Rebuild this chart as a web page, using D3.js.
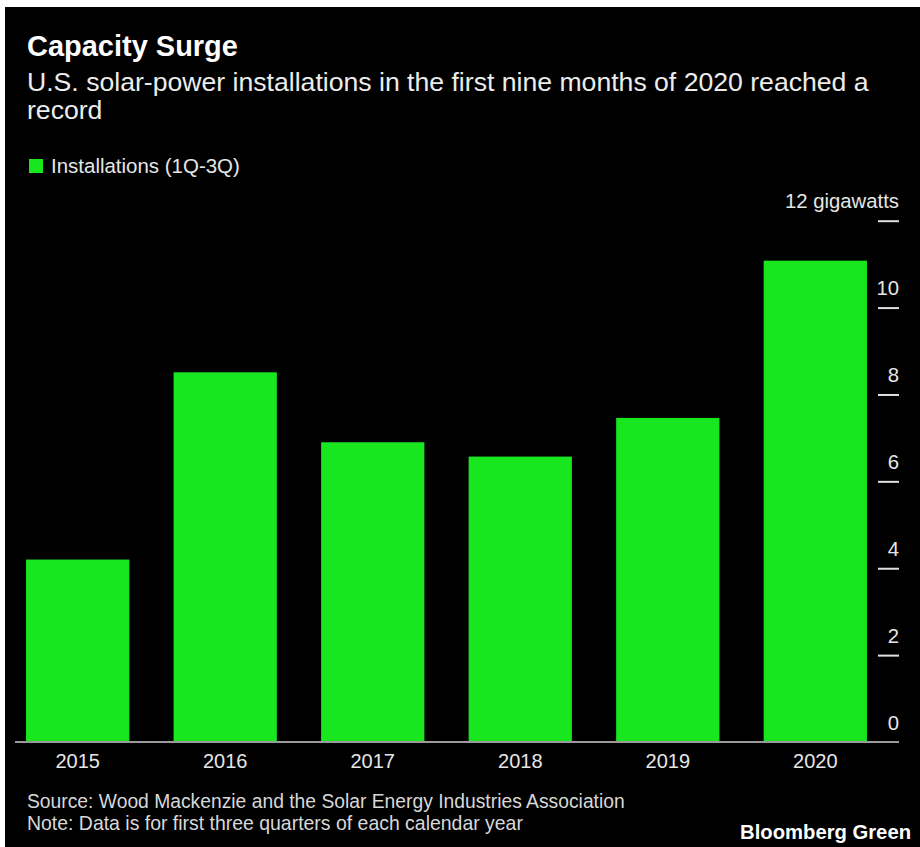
<!DOCTYPE html>
<html>
<head>
<meta charset="utf-8">
<script src="https://cdn.jsdelivr.net/npm/d3@7"></script>
<style>
  html, body { margin: 0; padding: 0; background: #ffffff; }
  svg { display: block; }
  text { font-family: "Liberation Sans", Arial, Helvetica, sans-serif; }
</style>
</head>
<body>
<script>
// ---- data ----
const categories = ["2015", "2016", "2017", "2018", "2019", "2020"];
const installations = [4.2, 8.51, 6.9, 6.57, 7.46, 11.08];
const yTicks = [0, 2, 4, 6, 8, 10, 12];
const yUnit = "gigawatts";
const seriesName = "Installations (1Q-3Q)";
const title = "Capacity Surge";
const subtitleLines = ["U.S. solar-power installations in the first nine months of 2020 reached a", "record"];
const footLines = ["Source: Wood Mackenzie and the Solar Energy Industries Association", "Note: Data is for first three quarters of each calendar year"];
const brand = "Bloomberg Green";

const W = 920, H = 847;
const GREEN = "#18e61f";

const svg = d3.select("body").append("svg").attr("width", W).attr("height", H);
svg.append("rect").attr("x", 5).attr("y", 7).attr("width", W - 5).attr("height", H - 7).attr("fill", "#000");

function fit(sel, target) {
  const fs = +sel.attr("font-size");
  const w = sel.node().getComputedTextLength();
  const nfs = fs * target / w;
  sel.attr("font-size", nfs);
  return nfs;
}

// Title & subtitle
const t = svg.append("text").attr("x", 27).attr("y", 56).attr("font-size", 26)
  .attr("font-weight", "bold").attr("fill", "#fff").text(title);
fit(t, 211);
let subSize = 22;
subtitleLines.forEach((s, i) => {
  const st = svg.append("text").attr("x", 27).attr("y", 91 + i * 28).attr("font-size", subSize)
    .attr("fill", "#ececec").text(s);
  if (i === 0) subSize = fit(st, 842);
});

// Legend
svg.append("rect").attr("x", 29).attr("y", 159).attr("width", 14).attr("height", 14).attr("fill", GREEN);
const lg = svg.append("text").attr("x", 51).attr("y", 173).attr("font-size", 18)
  .attr("fill", "#e6e6e6").text(seriesName);
fit(lg, 189);

// Scales
const x = d3.scaleBand().domain(categories).range([15, 878]).paddingInner(0.3).paddingOuter(0.075);
const y = d3.scaleLinear().domain([0, 12]).range([742, 220.7]);

// Bars
svg.append("g").selectAll("rect").data(categories).join("rect")
  .attr("x", d => x(d))
  .attr("width", x.bandwidth())
  .attr("y", (d, i) => y(installations[i]))
  .attr("height", (d, i) => y(0) - y(installations[i]))
  .attr("fill", GREEN);

// Baseline
svg.append("line").attr("x1", 15).attr("x2", 899).attr("y1", y(0)).attr("y2", y(0))
  .attr("stroke", "#9a9a9a").attr("stroke-width", 2);

// Right axis (ticks with labels above)
const yAxis = d3.axisRight(y).tickValues(yTicks).tickSize(21).tickFormat(d => d === 12 ? `${d} ${yUnit}` : d);
const gy = svg.append("g").attr("transform", "translate(878,0)").call(yAxis);
gy.select(".domain").remove();
gy.selectAll(".tick line").attr("stroke", "#e0e0e0").attr("stroke-width", 2)
  .filter(d => d === 0).remove();
const tickTexts = gy.selectAll(".tick text")
  .attr("x", 21).attr("dy", 0).attr("y", -13)
  .attr("text-anchor", "end")
  .attr("font-size", 17)
  .attr("font-family", "Liberation Sans, Arial, sans-serif")
  .attr("fill", "#e6e6e6");
const topLabel = tickTexts.filter(d => d === 12);
const tickSize = fit(topLabel, 114);
tickTexts.attr("font-size", tickSize);

// X axis labels
const xAxis = d3.axisBottom(x).tickSize(0).tickPadding(0);
const gx = svg.append("g").attr("transform", `translate(0,${y(0)})`).call(xAxis);
gx.select(".domain").remove();
gx.selectAll(".tick text").attr("dy", 0).attr("y", 26).attr("font-size", 20)
  .attr("font-family", "Liberation Sans, Arial, sans-serif").attr("fill", "#e6e6e6");

// Footnotes
footLines.forEach((s, i) => {
  const ft = svg.append("text").attr("x", 27).attr("y", 808 + i * 22).attr("font-size", 17)
    .attr("fill", "#d8d8d8").text(s);
  if (i === 0) fit(ft, 598);
  else fit(ft, 496);
});
const bt = svg.append("text").attr("x", 911).attr("y", 839).attr("text-anchor", "end")
  .attr("font-size", 19).attr("font-weight", "bold").attr("fill", "#fff").text(brand);
fit(bt, 171);
</script>
</body>
</html>
